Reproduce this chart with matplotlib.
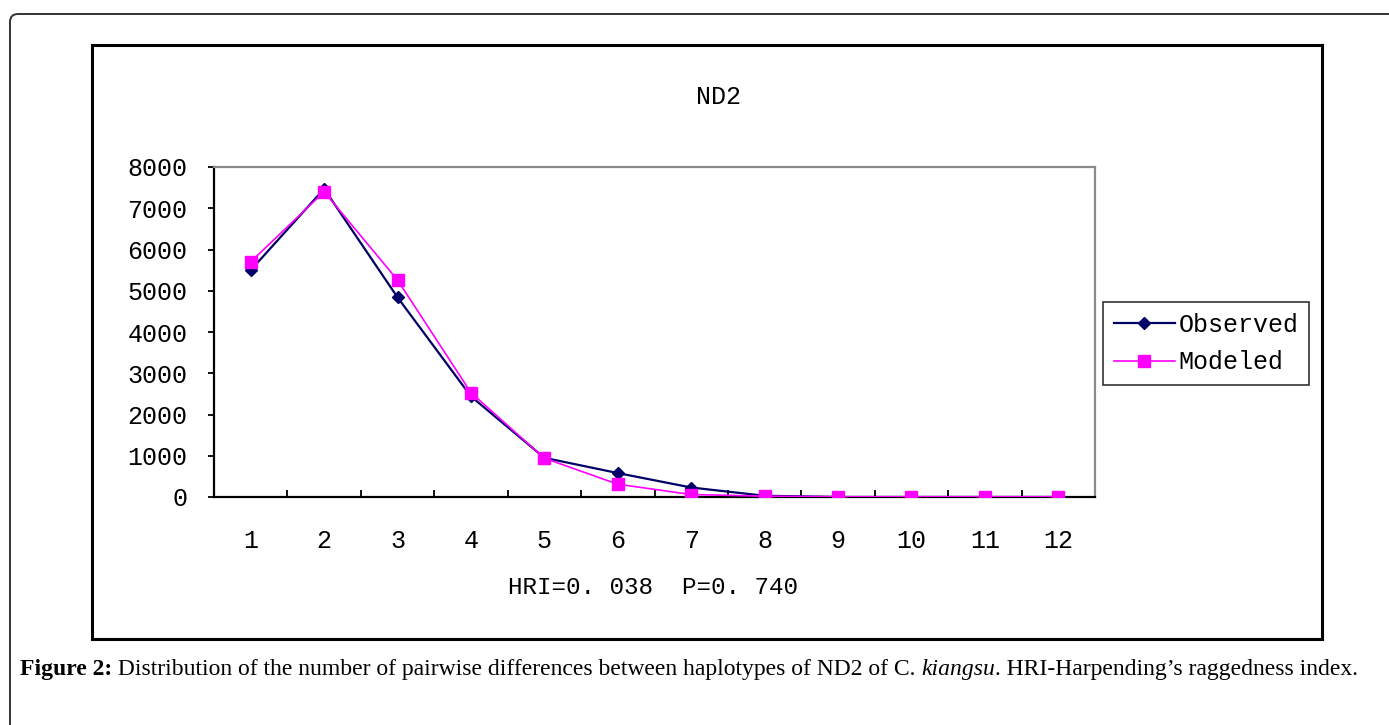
import matplotlib
matplotlib.use("Agg")
import matplotlib.pyplot as plt
from matplotlib.patches import Rectangle, FancyBboxPatch
from matplotlib.ticker import FixedLocator

# data
categories = list(range(1, 13))
observed = [5500, 7470, 4840, 2440, 950, 580, 230, 30, 0, 0, 0, 0]
modeled = [5700, 7400, 5260, 2530, 940, 310, 60, 20, 5, 5, 5, 5]
y_ticks = [0, 1000, 2000, 3000, 4000, 5000, 6000, 7000, 8000]

W, H = 1389, 725
fig = plt.figure(figsize=(W / 100, H / 100), dpi=100)
fig.patch.set_facecolor("white")

mono = "Liberation Mono"

# outer rounded page box
page = FancyBboxPatch((10, -30), 1420, 725 - 14 + 30, boxstyle="round,pad=0,rounding_size=8",
                      transform=None, fill=False, edgecolor="#333333", linewidth=1.4)
fig.patches.append(page)

# chart frame
frame = Rectangle((92 / W, 1 - 639 / H), (1322 - 92) / W, (639 - 45) / H,
                  transform=fig.transFigure, fill=False, edgecolor="black", linewidth=2.2)
fig.patches.append(frame)

ax = fig.add_axes([214 / W, 1 - 497 / H, (1095 - 214) / W, (497 - 167) / H])
ax.plot(categories, observed, color="#000066", linewidth=1.6, marker="D",
        markersize=6, label="Observed", zorder=3)
ax.plot(categories, modeled, color="#FF00FF", linewidth=1.2, marker="s",
        markersize=9, label="Modeled", zorder=4)

ax.set_xlim(0.5, 12.5)
ax.set_ylim(0, 8000)
ax.set_yticks(y_ticks)
ax.set_xticks(categories)
ax.xaxis.set_minor_locator(FixedLocator([c + 0.5 for c in categories[:-1]]))
ax.tick_params(axis="x", which="major", length=0, pad=23, labelsize=18)
ax.tick_params(axis="x", which="minor", direction="in", length=5, width=1.3, color="black")
ax.tick_params(axis="y", direction="out", length=4, width=1.3, pad=15, labelsize=18)
for lab in ax.get_xticklabels() + ax.get_yticklabels():
    lab.set_family(mono)

for s in ["left", "bottom"]:
    ax.spines[s].set_color("black")
    ax.spines[s].set_linewidth(1.6)
for s in ["top", "right"]:
    ax.spines[s].set_color("#8a8a8a")
    ax.spines[s].set_linewidth(1.6)

leg = ax.legend(loc="upper left", bbox_to_anchor=(1103 / W, 1 - 302 / H),
                bbox_transform=fig.transFigure, prop={"family": mono, "size": 18},
                frameon=True, fancybox=False, handlelength=2.45, handletextpad=0.15,
                borderpad=0.42, labelspacing=0.55, borderaxespad=0)
leg.get_frame().set_edgecolor("black")
leg.get_frame().set_linewidth(1.2)

fig.text(718 / W, 1 - 97 / H, "ND2", family=mono, fontsize=18, ha="center", va="center")
fig.text(508 / W, 1 - 588 / H, "HRI=0. 038  P=0. 740", family=mono, fontsize=17.5,
         ha="left", va="center")

# caption with mixed styles
fig.canvas.draw()
r = fig.canvas.get_renderer()
x = 20
cy = 1 - 670 / H
parts = [("Figure 2:", "bold", "normal"),
         (" Distribution of the number of pairwise differences between haplotypes of ND2 of C. ", "normal", "normal"),
         ("kiangsu", "normal", "italic"),
         (". HRI-Harpending\u2019s raggedness index.", "normal", "normal")]
for txt, wt, st in parts:
    t = fig.text(x / W, cy, txt, family="Liberation Serif", fontsize=17, weight=wt,
                 style=st, ha="left", va="center")
    bb = t.get_window_extent(renderer=r)
    x += bb.width

fig.savefig("out.png", dpi=100)
